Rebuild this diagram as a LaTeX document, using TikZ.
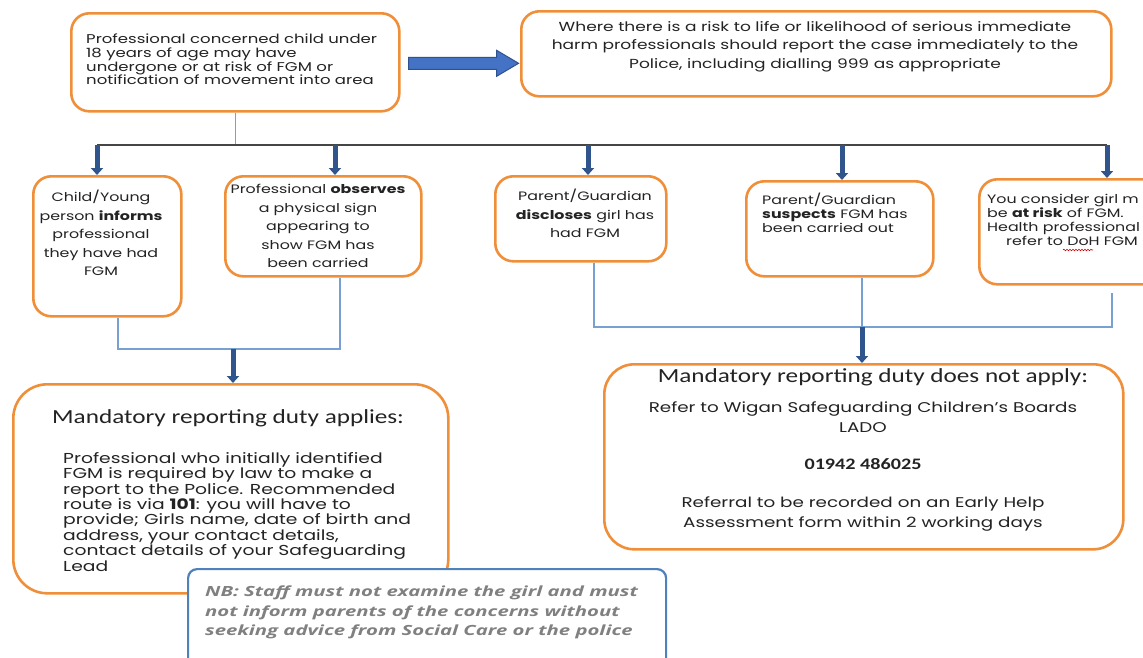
\documentclass[tikz,border=0pt]{standalone}
\usepackage{fontspec}
\usetikzlibrary{arrows.meta,calc,decorations.pathmorphing}
\newfontfamily\gothic[FakeStretch=1.3]{Poppins}
\newfontfamily\calib[FakeStretch=1.26]{Carlito}
\newfontfamily\nbfont[FakeStretch=1.45]{Open Sans}
\definecolor{borange}{RGB}{240,143,58}
\definecolor{dblue}{RGB}{47,85,140}
\definecolor{lblue}{RGB}{120,160,210}
\definecolor{afill}{RGB}{68,114,196}
\definecolor{aedge}{RGB}{47,82,143}
\definecolor{hgray}{RGB}{70,70,70}
\definecolor{nbblue}{RGB}{79,129,189}
\definecolor{nbgray}{RGB}{128,128,128}
\definecolor{txt}{RGB}{35,35,35}
\tikzset{
  obox/.style={draw=borange, line width=2.6pt, rounded corners=18pt, fill=white, anchor=north west, inner sep=0pt},
  link/.style={draw=lblue, line width=1.3pt},
  hbar/.style={draw=hgray, line width=1.5pt},
  darr/.style={draw=dblue, line width=5pt, -{Triangle[width=12pt,length=7pt]}},
  tx/.style={inner sep=0pt, text=txt},
  gt/.style={tx, font=\gothic\fontsize{12.2}{18.5}\selectfont},
}
\begin{document}
\begin{tikzpicture}[x=1pt,y=-1pt]
\useasboundingbox (0,0) rectangle (1143,657);
\clip (0,0) rectangle (1143,657);
\fill[white] (0,0) rectangle (1143,657);
% boxes
\node[obox, minimum width=328pt, minimum height=98pt] (tl) at (70,12) {};
\node[obox, minimum width=590pt, minimum height=85pt] (tr) at (520,10) {};
\node[obox, minimum width=148pt, minimum height=140pt] (b1) at (32,175) {};
\node[obox, minimum width=196pt, minimum height=100pt] (b2) at (224,175) {};
\node[obox, minimum width=171pt, minimum height=85pt] (b3) at (494,175) {};
\node[obox, minimum width=187pt, minimum height=95pt] (b4) at (745,180) {};
\node[obox, minimum width=220pt, minimum height=105pt] (b5) at (978,178) {};
\node[obox, rounded corners=34pt, minimum width=435pt, minimum height=209pt] (ap) at (12,383) {};
\node[obox, rounded corners=30pt, minimum width=519pt, minimum height=185pt] (na) at (603,363) {};
\node[draw=nbblue, line width=2.2pt, rounded corners=9pt, fill=white, anchor=north west, minimum width=478pt, minimum height=120pt, inner sep=0pt] (nb) at (187,568) {};
% texts
\node[tx, anchor=north west, align=left, font=\gothic\fontsize{12.7}{13.6}\selectfont] (tlt) at (86,34)
 {Professional concerned child under\\18 years of age may have\\undergone or at risk of FGM or\\notification of movement into area};
\node[gt, anchor=north, align=center, font=\gothic\fontsize{13.1}{18.6}\selectfont] (trt) at (815,21)
 {Where there is a risk to life or likelihood of serious immediate\\harm professionals should report the case immediately to the\\Police, including dialling 999 as appropriate};
\node[gt, anchor=north, align=center] (b1t) at (101,190)
 {Child/Young\\person \textbf{informs}\\professional\\they have had\\FGM};
\node[gt, anchor=north, align=center] (b2t) at (318,184)
 {Professional \textbf{observes}\\a physical sign\\appearing to\\show FGM has\\been carried};
\node[gt, anchor=north, align=center] (b3t) at (585,189)
 {Parent/Guardian\\\textbf{discloses} girl has\\had FGM};
\node[gt, anchor=north west, align=left, font=\gothic\fontsize{12.2}{14}\selectfont] (b4t) at (762,193)
 {Parent/Guardian\\\textbf{suspects} FGM has\\been carried out};
\node[gt, anchor=north west, align=left, font=\gothic\fontsize{12.2}{14}\selectfont] (b5t) at (987,194)
 {You consider girl m\\be \textbf{at risk} of FGM.\\Health professional\\\hspace*{19pt}refer to DoH FGM};
\node[tx, anchor=north west, font=\calib\fontsize{20}{24}\selectfont] (apt) at (52,409) {Mandatory reporting duty applies:};
\node[tx, anchor=north west, align=left, font=\gothic\fontsize{14.4}{15.4}\selectfont] (apb) at (63,452)
 {Professional who initially identified\\FGM is required by law to make a\\report to the Police. Recommended\\route is via \textbf{101}: you will have to\\provide; Girls name, date of birth and\\address, your contact details,\\contact details of your Safeguarding\\Lead};
\node[tx, anchor=north, font=\calib\fontsize{20}{24}\selectfont] (nat) at (873,368) {Mandatory reporting duty does not apply:};
\node[tx, anchor=north, align=center, font=\gothic\fontsize{14.1}{19.5}\selectfont] (nab1) at (863,402)
 {Refer to Wigan Safeguarding Children’s Boards\\LADO};
\node[tx, anchor=north, font=\calib\bfseries\fontsize{16}{19}\selectfont] (nab2) at (863,458) {01942 486025};
\node[tx, anchor=north, align=center, font=\gothic\fontsize{14.1}{19.5}\selectfont] (nab3) at (863,497)
 {Referral to be recorded on an Early Help\\Assessment form within 2 working days};
\node[tx, anchor=north west, align=left, text=nbgray, font=\nbfont\bfseries\itshape\fontsize{14}{19.5}\selectfont] (nbt) at (205,586)
 {NB: Staff must not examine the girl and must\\not inform parents of the concerns without\\seeking advice from Social Care or the police};
% spell-check squiggle under "DoH"
\draw[red!80!black, line width=0.6pt, decorate, decoration={snake, amplitude=0.8pt, segment length=3pt}] (1063,250) -- (1093,250);
% big arrow
\coordinate (ba) at ($(tl.east)+(8,1)$);
\fill[afill, draw=aedge, line width=1pt] (ba) -- ++(0,-6) -- ++(88,0) -- ++(0,-7) -- ++(22,13) -- ++(-22,13) -- ++(0,-7) -- ++(-88,0) -- cycle;
% branch line
\coordinate (h1) at (97,145);
\coordinate (h2) at (335,145);
\coordinate (h3) at (588,145);
\coordinate (h4) at (842,145);
\coordinate (h5) at (1107,145);
\draw[link] (tl.south) -- (tl.south |- h1);
\draw[hbar] (h1) -- (h5);
\draw[darr] (h1) -- (h1 |- b1.north);
\draw[darr] (h2) -- (h2 |- b2.north);
\draw[darr] (h3) -- (h3 |- b3.north);
\draw[darr] (h4) -- (h4 |- b4.north);
\draw[darr] (h5) -- (h5 |- b5.north);
% lower left
\coordinate (l1) at (118,349);
\coordinate (l2) at (340,349);
\coordinate (lm) at (233,349);
\draw[link] (l1 |- b1.south) -- (l1) -- (l2) -- (l2 |- b2.south);
\draw[darr] (lm) -- (lm |- ap.north);
% lower right
\coordinate (r1) at (594,327);
\coordinate (r2) at (862,327);
\coordinate (r3) at (1112,327);
\coordinate (r3e) at (1112,293);
\draw[link] (r1 |- b3.south) -- (r1) -- (r3) -- (r3e);
\draw[link] (r2 |- b4.south) -- (r2);
\draw[darr] (r2) -- (r2 |- na.north);
\end{tikzpicture}
\end{document}
